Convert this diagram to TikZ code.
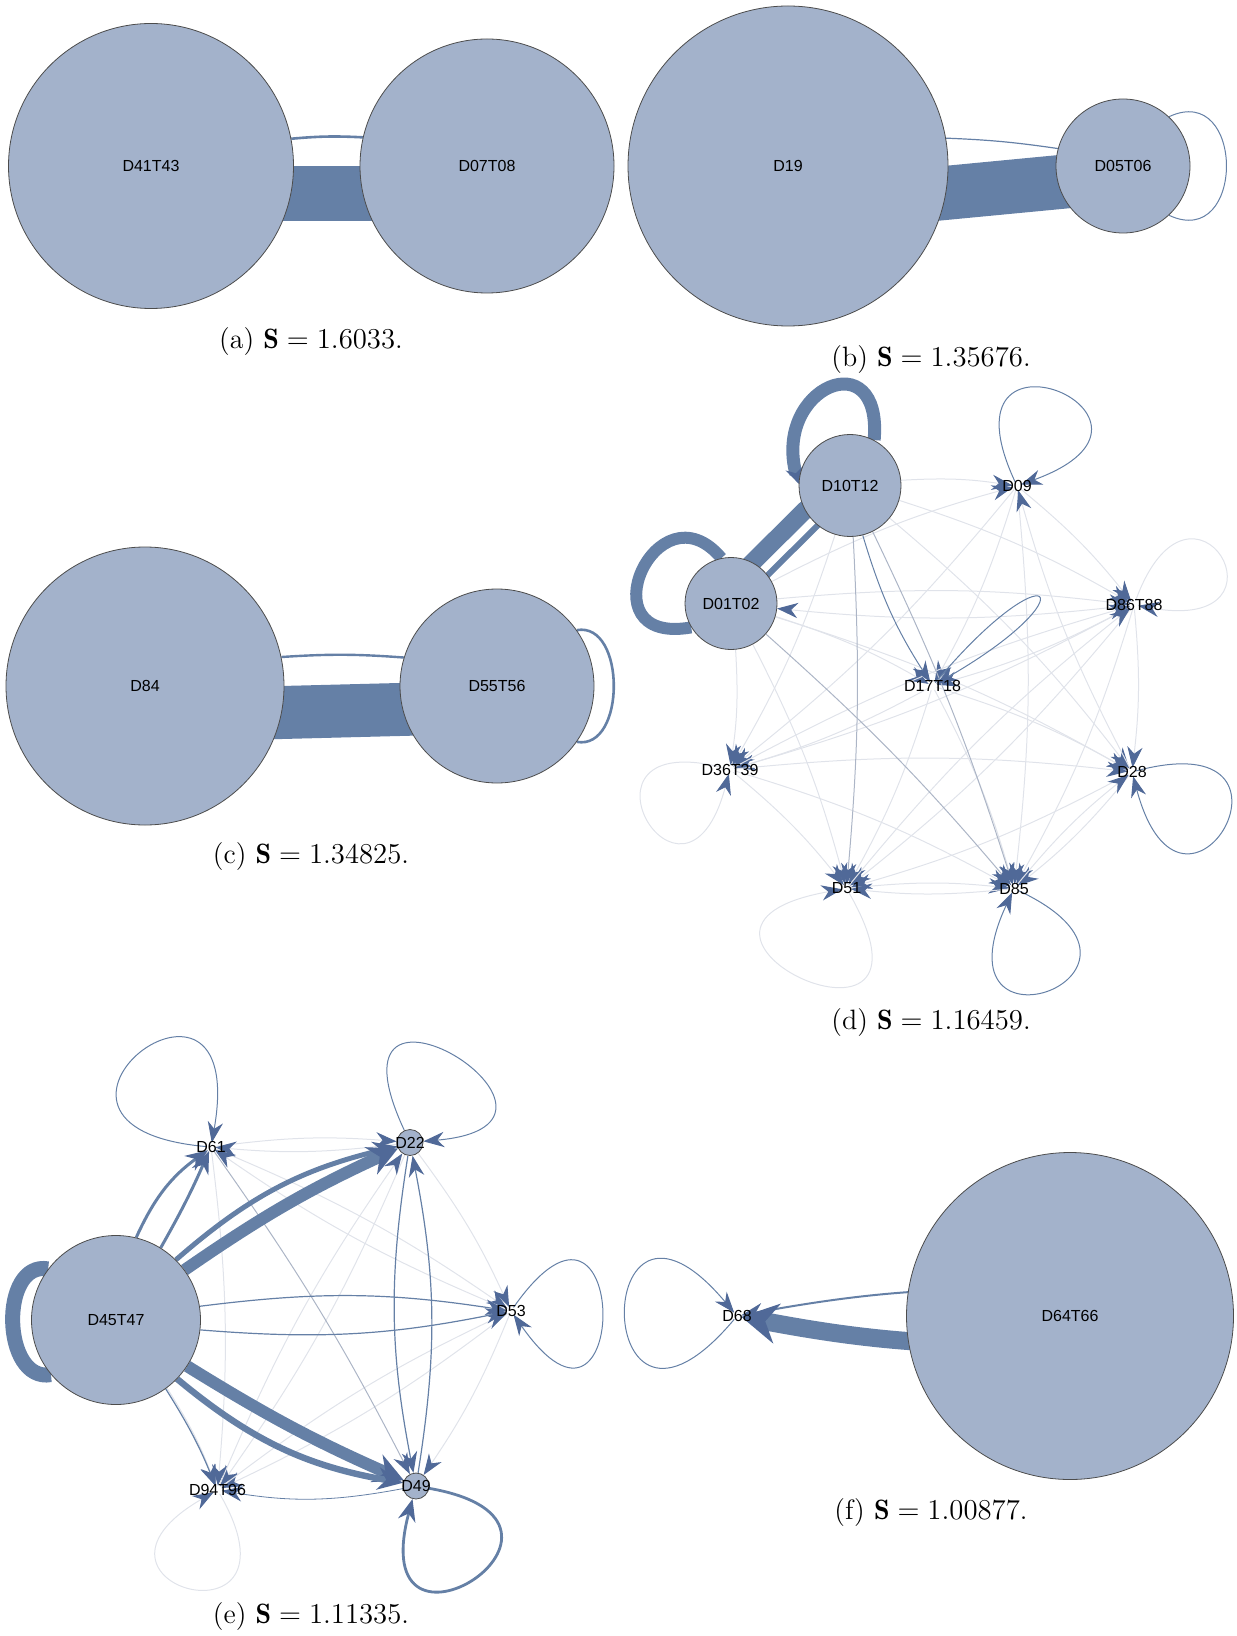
\documentclass[tikz,border=0pt]{standalone}
\usepackage{fontspec}
\setsansfont{Liberation Sans}
\usepackage{tikz}
\usetikzlibrary{arrows.meta,positioning,backgrounds}
\definecolor{nodefill}{RGB}{163,178,203}
\definecolor{edgeblue}{RGB}{101,128,166}
\definecolor{tipblue}{RGB}{80,105,152}
\definecolor{palegray}{RGB}{224,227,234}
\definecolor{midgray}{RGB}{172,181,198}
\tikzset{
>={Stealth[length=10pt 0.8,width=7pt 1.3,color=tipblue]},
  state/.style={
    circle,
    draw=black!70, line width=0.4pt,
    fill=nodefill,
    inner sep=0pt,
    font=\sffamily\fontsize{8}{9.5}\selectfont},
  spot/.style={circle, inner sep=0pt, minimum size=4pt},
  tag/.style={font=\sffamily\fontsize{8}{9.5}\selectfont, inner sep=0pt},
  flow/.style={draw=edgeblue, line width=0.5pt},
  weak/.style={draw=palegray, line width=0.5pt, ->},
  dim/.style={draw=midgray, line width=0.5pt, ->},
  caption/.style={font=\fontsize{14}{17}\selectfont},
}
\begin{document}
\begin{tikzpicture}[x=0.5pt,y=0.5pt]
\useasboundingbox (0,0) rectangle (1236,-1636);

% (a)
\node[state, minimum size=142.5pt] (a41) at (151,-166) {D41T43};
\node[state, minimum size=127pt] (a07) at (487,-166) {D07T08};
\node[caption] (capa) at (311,-342) {(a) $\mathbf{S} = 1.6033$.};
\begin{scope}[on background layer]
  \draw[flow, line width=1.3pt] (a41.11) to[bend left=4] (a07.167);
  \draw[flow, line width=27.5pt] ([shift={(0,-27.5)}]a41.center) -- ([shift={(0,-27.5)}]a07.center);
\end{scope}

% (b)
\node[state, minimum size=160pt] (b19) at (788,-166) {D19};
\node[state, minimum size=67pt] (b05) at (1123,-166) {D05T06};
\node[caption] (capb) at (931,-360) {(b) $\mathbf{S} = 1.35676$.};
\begin{scope}[on background layer]
  \draw[flow, line width=0.6pt] (b19.10) to[bend left=3] (b05.165);
  \draw[flow, line width=27pt] ([shift={(0,-42)}]b19.center) -- ([shift={(0,-10)}]b05.center);
  \draw[flow] (b05.47) to[out=25,in=-25,looseness=2.2] (b05.-47);
\end{scope}

% (c)
\node[state, minimum size=139pt] (c84) at (145,-686) {D84};
\node[state, minimum size=97pt] (c55) at (497,-686) {D55T56};
\node[caption] (capc) at (311,-857) {(c) $\mathbf{S} = 1.34825$.};
\begin{scope}[on background layer]
  \draw[flow, line width=1.2pt] (c84.12) to[bend left=4] (c55.163);
  \draw[flow, line width=26.5pt] ([shift={(0,-30)}]c84.center) -- ([shift={(0,-21)}]c55.center);
  \draw[flow, line width=1.3pt] (c55.35) to[out=10,in=-10,looseness=1.15] (c55.-35);
\end{scope}

% (d)
\node[state, minimum size=51pt] (d10) at (850,-485.5) {D10T12};
\node[state, minimum size=46pt] (d01) at (731,-603.5) {D01T02};
\node[spot] (d09) at (1017,-486) {};
\node[spot] (d86) at (1134,-605) {};
\node[spot] (d17) at (932.5,-686) {};
\node[spot] (d36) at (730,-769.5) {};
\node[spot] (d28) at (1132,-772) {};
\node[spot] (d51) at (846.5,-888.5) {};
\node[spot] (d85) at (1014,-888.5) {};
\node[tag] (d09t) at (d09) {D09};
\node[tag] (d86t) at (d86) {D86T88};
\node[tag] (d17t) at (d17) {D17T18};
\node[tag] (d36t) at (d36) {D36T39};
\node[tag] (d28t) at (d28) {D28};
\node[tag] (d51t) at (d51) {D51};
\node[tag] (d85t) at (d85) {D85};
\node[caption] (capd) at (931,-1022.5) {(d) $\mathbf{S} = 1.16459$.};
\begin{scope}[on background layer]
  \path[every edge/.style={weak, bend left=6}]
    (d01) edge (d17) edge (d86) edge (d28) edge (d51) edge (d36) edge (d09)
    (d10) edge (d09) edge (d86) edge (d28) edge (d36)
    (d09) edge (d86) edge (d17) edge (d85) edge (d36)
    (d86) edge (d17) edge (d28) edge (d85) edge (d51) edge (d36) edge (d01)
    (d17) edge (d85) edge (d28) edge (d36) edge (d51)
    (d36) edge (d28) edge (d51) edge (d85) edge (d86)
    (d28) edge (d85) edge (d51) edge (d09)
    (d51) edge (d85) edge (d86)
    (d85) edge (d51) edge (d28);
  \path[every edge/.style={dim, bend left=4}]
    (d01) edge (d85) (d10) edge (d85) edge (d51);
  \draw[weak] (d86) .. controls +(70:170) and +(-10:170) .. (d86);
  \draw[weak] (d51) .. controls +(-60:230) and +(-170:230) .. (d51);
  \draw[weak] (d36) .. controls +(165:180) and +(-105:180) .. (d36);
  \draw[flow, line width=9pt] ([shift={(-10,10)}]d01.center) -- ([shift={(-10,10)}]d10.center);
  \draw[flow, line width=3pt] ([shift={(4,-4)}]d01.center) -- ([shift={(4,-4)}]d10.center);
  \draw[flow, -{Stealth[length=8pt,width=9pt,color=tipblue]}, line width=6.5pt]
    (d10.62) .. controls +(85:100) and +(105:100) .. (d10.178);
  \draw[flow, line width=6pt] (d01.102) .. controls +(130:100) and +(190:110) .. (d01.211);
  \draw[flow, ->] (d10) to[bend right=8] (d17);
  \draw[flow, ->] (d17) .. controls +(50:185) and +(30:185) .. (d17);
  \draw[flow, ->] (d09) .. controls +(115:200) and +(20:200) .. (d09);
  \draw[flow, ->] (d28) .. controls +(15:200) and +(-75:200) .. (d28);
  \draw[flow, ->] (d85) .. controls +(-25:200) and +(-115:200) .. (d85);
\end{scope}

% (e)
\node[state, minimum size=84.5pt] (e45) at (116,-1320) {D45T47};
\node[spot] (e61) at (211,-1147) {};
\node[state, minimum size=13pt] (e22) at (410,-1142.5) {};
\node[spot] (e53) at (511,-1311) {};
\node[spot] (e94) at (217.5,-1490) {};
\node[state, minimum size=13pt] (e49) at (416,-1486) {};
\node[tag] (e61t) at (e61) {D61};
\node[tag] (e22t) at (e22) {D22};
\node[tag] (e53t) at (e53) {D53};
\node[tag] (e94t) at (e94) {D94T96};
\node[tag] (e49t) at (e49) {D49};
\node[caption] (cape) at (311,-1616) {(e) $\mathbf{S} = 1.11335$.};
\begin{scope}[on background layer]
  \path[every edge/.style={weak, bend left=6}]
    (e61) edge (e22) edge (e53) edge (e94)
    (e22) edge (e61) edge (e53) edge (e94)
    (e53) edge (e49) edge (e94) edge (e61)
    (e94) edge (e53) edge (e22)
    (e45) edge (e94);
  \draw[weak] (e94) .. controls +(-60:190) and +(-150:190) .. (e94);
  \draw[dim] (e61) to[bend left=4] (e49);
  \draw[flow, ->, line width=0.6pt] (e22) to[bend right=10] (e49);
  \draw[flow, ->, line width=0.6pt] (e49) to[bend right=10] (e22);
  \draw[flow, ->, line width=0.4pt] (e49) to[bend left=10] (e94);
  \draw[flow, ->, line width=1.5pt] (e45) to[bend left=15] (e61);
  \draw[flow, ->, line width=1.5pt] (e45) to[bend right=3] (e61);
  \draw[flow, ->, line width=2.5pt] (e45) to[bend left=14] (e22);
  \draw[flow, ->, line width=6pt] (e45) to[bend left=5] (e22);
  \draw[flow, ->, line width=0.6pt] (e45) to[bend left=8] (e53);
  \draw[flow, ->, line width=0.6pt] (e45) to[bend right=8] (e53);
  \draw[flow, ->, line width=6pt] (e45) to[bend right=4] (e49);
  \draw[flow, ->, line width=3.2pt] (e45) to[bend right=15] (e49);
  \draw[flow, ->, line width=0.6pt] (e45) to[bend left=5] (e94);
  \draw[flow, line width=7.5pt] (e45.143) .. controls +(170:50) and +(190:50) .. (e45.220);
  \draw[flow, ->] (e61) .. controls +(175:230) and +(80:230) .. (e61);
  \draw[flow, ->] (e22) .. controls +(115:230) and +(5:210) .. (e22);
  \draw[flow, ->] (e53) .. controls +(55:210) and +(-55:210) .. (e53);
  \draw[flow, ->, line width=1.4pt] (e49) .. controls +(-10:210) and +(-105:210) .. (e49);
\end{scope}

% (f)
\node[state, minimum size=163.5pt] (f64) at (1070,-1316) {D64T66};
\node[spot] (f68) at (737,-1316) {};
\node[tag] (f68t) at (f68) {D68};
\node[caption] (capf) at (931,-1512) {(f) $\mathbf{S} = 1.00877$.};
\begin{scope}[on background layer]
  \draw[flow, ->] (f68) .. controls +(-130:230) and +(130:230) .. (f68);
  \draw[flow, ->, line width=1pt] ([shift={(0,26)}]f64.center) to[bend right=6] (f68);
  \draw[flow, -{Stealth[length=18pt,width=20pt,color=tipblue]}, line width=9pt]
    ([shift={(0,-28)}]f64.center) to[bend left=6] (f68);
\end{scope}
\end{tikzpicture}
\end{document}
